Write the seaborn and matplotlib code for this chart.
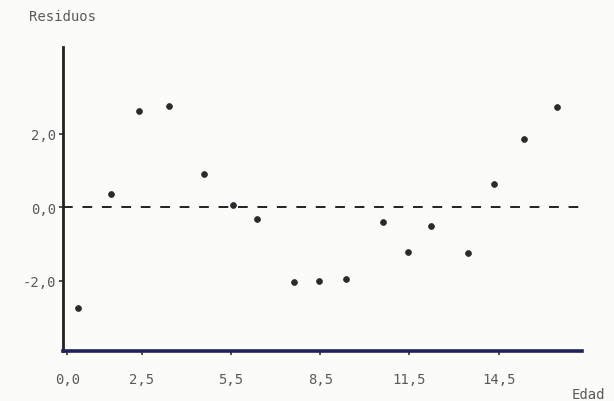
import matplotlib
matplotlib.use("Agg")
import matplotlib.pyplot as plt
import seaborn as sns
import pandas as pd

# Data
edad = [0.36, 1.47, 2.41, 3.42, 4.59, 5.56, 6.37, 7.62, 8.46, 9.36,
        10.60, 11.44, 12.22, 13.48, 14.35, 15.35, 16.46]
residuos = [-2.74, 0.36, 2.63, 2.75, 0.91, 0.06, -0.32, -2.03, -2.00, -1.95,
            -0.41, -1.21, -0.50, -1.25, 0.63, 1.86, 2.74]
x_ticks = [0.0, 2.5, 5.5, 8.5, 11.5, 14.5]
x_tick_labels = ["0,0", "2,5", "5,5", "8,5", "11,5", "14,5"]
y_ticks = [-2.0, 0.0, 2.0]
y_tick_labels = ["-2,0", "0,0", "2,0"]

df = pd.DataFrame({"Edad": edad, "Residuos": residuos})

sns.set_theme(style="white")
plt.rcParams["font.family"] = ["DejaVu Sans Mono", "DejaVu Sans"]

txt = "#5a5a5a"
bg = "#fbfbf9"

fig = plt.figure(figsize=(6.14, 4.02), dpi=100, facecolor=bg)
ax = fig.add_axes([63 / 614, 1 - 352 / 402, (582 - 63) / 614, (352 - 48) / 402])
ax.set_facecolor(bg)

ax.axhline(0, color="#222222", lw=1.4, ls=(0, (5, 5)), zorder=1)
sns.scatterplot(data=df, x="Edad", y="Residuos", ax=ax, color="#2a2a2a",
                s=18, edgecolor="#2a2a2a", linewidth=0.5, zorder=3, legend=False)

ax.set_xlim(-0.145, 17.3)
ax.set_ylim(-3.92, 4.37)

ax.set_xticks(x_ticks)
ax.set_xticklabels(x_tick_labels)
ax.set_yticks(y_ticks)
ax.set_yticklabels(y_tick_labels)
ax.tick_params(axis="both", which="major", length=3, width=1.2, color="#333333",
               labelsize=10, labelcolor=txt, direction="out", left=True, bottom=True)
ax.tick_params(axis="x", pad=12)
ax.tick_params(axis="y", pad=2)

for s in ["top", "right"]:
    ax.spines[s].set_visible(False)
ax.spines["left"].set_color("#222222")
ax.spines["left"].set_linewidth(2.0)
ax.spines["bottom"].set_color("#22225a")
ax.spines["bottom"].set_linewidth(2.6)

ax.set_xlabel("")
ax.set_ylabel("")
fig.text(62 / 614, 1 - 17 / 402, "Residuos", ha="center", va="center",
         fontsize=10, color=txt)
fig.text(588 / 614, 1 - 395 / 402, "Edad", ha="center", va="center",
         fontsize=10, color=txt)

fig.savefig("out.png", dpi=100, facecolor=bg)
